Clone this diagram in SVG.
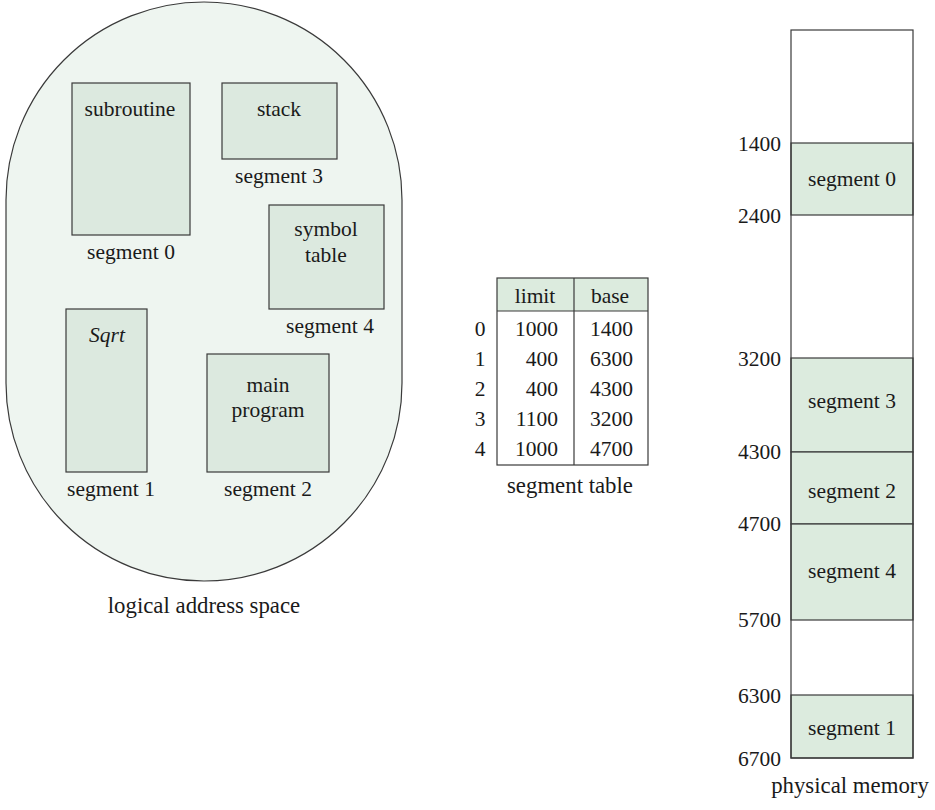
<svg xmlns="http://www.w3.org/2000/svg" width="935" height="810" viewBox="0 0 935 810">
<style>
text{font-family:'Liberation Serif','Times New Roman','DejaVu Serif',serif;font-size:21.5px;fill:#1a1a1a}
.c{text-anchor:middle}
.r{text-anchor:end}
.cap{font-size:22.8px}
.box{fill:#dce9df;stroke:#3a3a3a;stroke-width:1.2}
.seg{fill:#dcebde;stroke:#3a3a3a;stroke-width:1.2}
.line{stroke:#3a3a3a;stroke-width:1.2;fill:none}
</style>
<rect width="935" height="810" fill="#ffffff"/>
<g id="logical-space">
<path d="M6,200 A198,198 0 0 1 402,200 L402,383 A198,198 0 0 1 6,383 Z" fill="#eef5f0" stroke="#3a3a3a" stroke-width="1.2"/>
<text class="c cap" x="204" y="613">logical address space</text>
</g>
<g id="seg0">
<rect class="box" x="72" y="83" width="118" height="152"/>
<text class="c" x="130" y="116">subroutine</text>
<text class="c" x="131" y="259">segment 0</text>
</g>
<g id="seg3">
<rect class="box" x="222" y="83" width="115" height="76"/>
<text class="c" x="279" y="116">stack</text>
<text class="c" x="279" y="183">segment 3</text>
</g>
<g id="seg4">
<rect class="box" x="269" y="205" width="115" height="104"/>
<text class="c" x="326" y="236">symbol</text>
<text class="c" x="326" y="262">table</text>
<text class="c" x="330" y="333">segment 4</text>
</g>
<g id="seg1">
<rect class="box" x="66" y="309" width="81" height="163"/>
<text class="c" x="107" y="342" font-style="italic">Sqrt</text>
<text class="c" x="111" y="496">segment 1</text>
</g>
<g id="seg2">
<rect class="box" x="207" y="354" width="122" height="118"/>
<text class="c" x="268" y="392">main</text>
<text class="c" x="268" y="417">program</text>
<text class="c" x="268" y="496">segment 2</text>
</g>
<g id="segment-table">
<rect x="497" y="278" width="151" height="33" fill="#dcebde" stroke="none"/>
<rect class="line" x="497" y="278" width="151" height="187"/>
<line class="line" x1="497" y1="311" x2="648" y2="311"/>
<line class="line" x1="574" y1="278" x2="574" y2="465"/>
<text class="c" x="535" y="303">limit</text>
<text class="c" x="610" y="303">base</text>
<text class="c" x="480" y="336">0</text><text class="r" x="558" y="336">1000</text><text class="r" x="633" y="336">1400</text>
<text class="c" x="480" y="366">1</text><text class="r" x="558" y="366">400</text><text class="r" x="633" y="366">6300</text>
<text class="c" x="480" y="396">2</text><text class="r" x="558" y="396">400</text><text class="r" x="633" y="396">4300</text>
<text class="c" x="480" y="426">3</text><text class="r" x="558" y="426">1100</text><text class="r" x="633" y="426">3200</text>
<text class="c" x="480" y="456">4</text><text class="r" x="558" y="456">1000</text><text class="r" x="633" y="456">4700</text>
<text class="c cap" x="570" y="493">segment table</text>
</g>
<g id="physical-memory">
<rect x="791" y="30" width="122" height="728" fill="#ffffff" stroke="none"/>
<rect class="seg" x="791" y="143" width="122" height="72"/>
<rect class="seg" x="791" y="358" width="122" height="94"/>
<rect class="seg" x="791" y="452" width="122" height="72"/>
<rect class="seg" x="791" y="524" width="122" height="96"/>
<rect class="seg" x="791" y="695" width="122" height="63"/>
<rect class="line" x="791" y="30" width="122" height="728"/>
<text class="c" x="852" y="186">segment 0</text>
<text class="c" x="852" y="408">segment 3</text>
<text class="c" x="852" y="498">segment 2</text>
<text class="c" x="852" y="578">segment 4</text>
<text class="c" x="852" y="735">segment 1</text>
<text class="r" x="781" y="151">1400</text>
<text class="r" x="781" y="223">2400</text>
<text class="r" x="781" y="366">3200</text>
<text class="r" x="781" y="459">4300</text>
<text class="r" x="781" y="531">4700</text>
<text class="r" x="781" y="627">5700</text>
<text class="r" x="781" y="703">6300</text>
<text class="r" x="781" y="766">6700</text>
<text class="c cap" x="850" y="793">physical memory</text>
</g>
<g id="connectors"/>
</svg>
